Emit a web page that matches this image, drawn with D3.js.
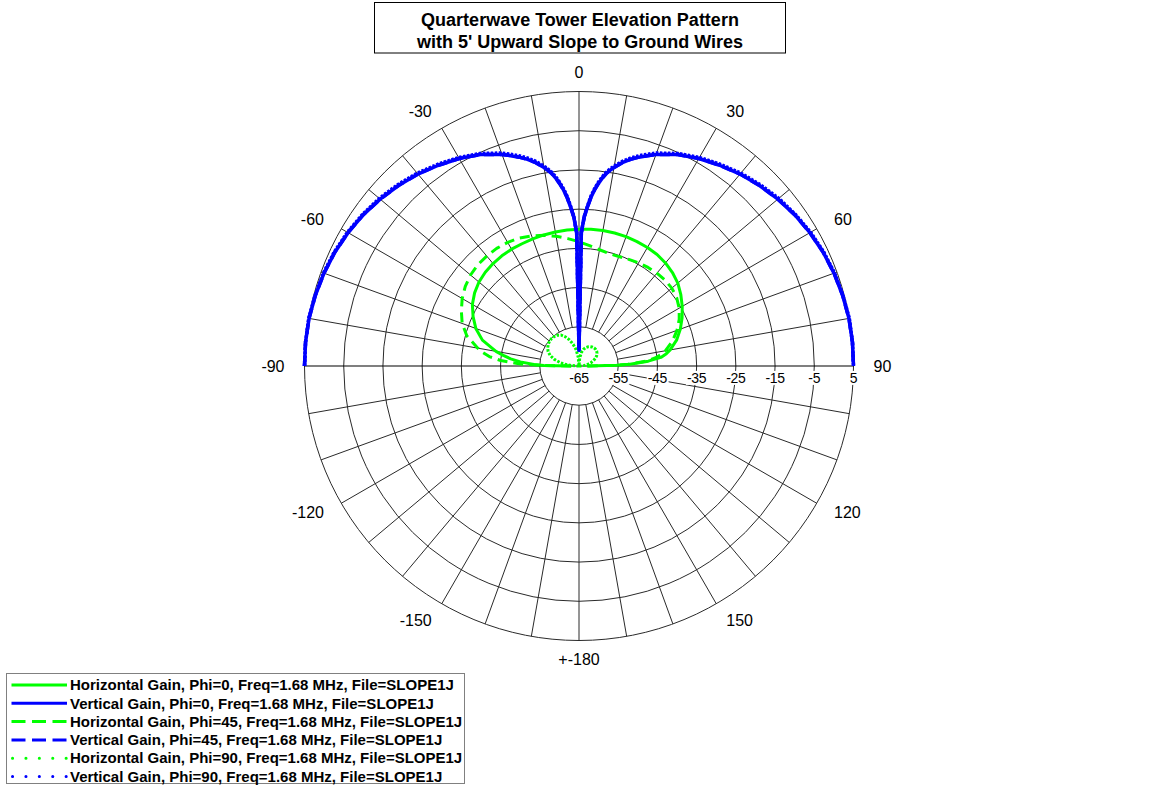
<!DOCTYPE html>
<html><head><meta charset="utf-8">
<script src="https://cdn.jsdelivr.net/npm/d3@7"></script>
<style>
body{margin:0;background:#fff;}
svg{display:block;font-family:"Liberation Sans",Arial,sans-serif;}
</style>
</head><body>
<svg id="chart" width="1151" height="786"></svg>
<script>
// ---------------- data ----------------
const titleLines = ["Quarterwave Tower Elevation Pattern", "with 5' Upward Slope to Ground Wires"];
const ringValues = [-65, -55, -45, -35, -25, -15, -5, 5];
const ringLabels = ["-65", "-55", "-45", "-35", "-25", "-15", "-5", "5"];
const angleTicks = [0, 30, 60, 90, 120, 150, 180, -150, -120, -90, -60, -30];
const angleLabels = ["0", "30", "60", "90", "120", "150", "+-180", "-150", "-120", "-90", "-60", "-30"];

// angles (deg from zenith) for the vertical-gain traces
const blueAngles = [-90,-85,-80,-75,-70,-65,-60,-55,-50,-45,-40,-35,-30,-25,-20,-18,-16,-14,-12,-10,-9,-8,-7,-6,-5,-4,-3,-2,-1,0,
                    1,2,3,4,5,6,7,8,9,10,12,14,16,18,20,25,30,35,40,45,50,55,60,65,70,75,80,85,90];
const vertPhi0  = [5.15,5.1,4.9,4.6,4.2,3.7,3.0,2.2,1.2,0.1,-1.1,-2.5,-3.9,-5.5,-7.6,-8.6,-9.6,-10.7,-12.0,-13.6,-14.5,-15.5,-16.8,-18.3,-20.0,-22.0,-24.5,-27.0,-31.0,-61.0,
                   -31.0,-27.0,-24.5,-22.0,-20.0,-18.3,-16.8,-15.5,-14.5,-13.6,-12.0,-10.7,-9.6,-8.6,-7.6,-5.5,-3.9,-2.5,-1.1,0.1,1.2,2.2,3.0,3.7,4.2,4.6,4.9,5.1,5.15];
const vertPhi45 = [5.15,5.1,4.9,4.6,4.2,3.7,3.0,2.2,1.2,0.1,-1.1,-2.5,-3.9,-5.5,-7.6,-8.6,-9.6,-10.7,-12.0,-13.6,-14.5,-15.5,-16.8,-18.3,-20.0,-22.0,-24.5,-27.0,-31.0,-61.0,
                   -31.0,-27.0,-24.5,-22.0,-20.0,-18.3,-16.8,-15.5,-14.5,-13.6,-12.0,-10.7,-9.6,-8.6,-7.6,-5.5,-3.9,-2.5,-1.1,0.1,1.2,2.2,3.0,3.7,4.2,4.6,4.9,5.1,5.15];
const vertPhi90 = [5.2,5.15,5.0,4.7,4.35,3.85,3.2,2.4,1.5,0.4,-0.8,-2.2,-3.6,-5.2,-7.2,-8.2,-9.2,-10.3,-11.6,-13.2,-14.1,-15.1,-16.4,-17.9,-19.6,-21.6,-24.2,-26.8,-30.8,-61.0,
                   -30.8,-26.8,-24.2,-21.6,-19.6,-17.9,-16.4,-15.1,-14.1,-13.2,-11.6,-10.3,-9.2,-8.2,-7.2,-5.2,-3.6,-2.2,-0.8,0.4,1.5,2.4,3.2,3.85,4.35,4.7,5.0,5.15,5.2];

// angles for the horizontal-gain traces
const greenAngles = [-90,-89,-88,-86,-84,-82,-80,-75,-70,-65,-60,-55,-50,-45,-40,-35,-30,-25,-20,-15,-10,-5,0,
                     5,10,15,20,25,30,35,40,45,50,55,60,65,70,75,80,82,84,86,88,89,90];
const horzPhi0  = [-63,-56,-53.5,-50,-47.5,-45.5,-43.5,-39.5,-37,-35.2,-33.6,-32.5,-31.7,-31.2,-30.9,-30.7,-30.6,-30.6,-30.5,-30.4,-30.3,-30.2,-30.1,
                   -30.0,-29.9,-29.9,-29.9,-30.0,-30.1,-30.3,-30.7,-31.3,-32.1,-33.3,-34.6,-36.0,-37.5,-39.2,-41.4,-42.5,-44.0,-47.3,-52.0,-55.4,-63];
const horzPhi45 = [-63,-55,-50,-45,-42,-40.2,-38.8,-35.4,-33.3,-31.9,-30.6,-29.6,-28.9,-28.5,-28.4,-28.4,-28.6,-29.0,-29.7,-30.5,-31.4,-32.4,-33.3,
                   -34.2,-34.9,-35.3,-35.3,-35.0,-34.6,-34.3,-34.1,-34.0,-34.1,-34.6,-35.5,-36.8,-38.4,-40.3,-42.6,-43.8,-45.5,-48.0,-52.5,-56.0,-63];
const horzPhi90 = [-65,-64.5,-64,-63,-62,-61,-60.2,-58.5,-57.2,-56.3,-55.8,-55.4,-55.2,-55.1,-55.2,-55.4,-55.9,-56.8,-57.9,-59.3,-60.8,-62.8,-65,
                   -63,-61.5,-60.6,-60.0,-59.6,-59.3,-59.1,-59.0,-59.0,-59.1,-59.4,-59.8,-60.4,-61.1,-61.9,-62.8,-63.2,-63.7,-64.2,-64.6,-64.8,-65];

const seriesNames = [
  "Horizontal Gain, Phi=0, Freq=1.68 MHz, File=SLOPE1J",
  "Vertical Gain, Phi=0, Freq=1.68 MHz, File=SLOPE1J",
  "Horizontal Gain, Phi=45, Freq=1.68 MHz, File=SLOPE1J",
  "Vertical Gain, Phi=45, Freq=1.68 MHz, File=SLOPE1J",
  "Horizontal Gain, Phi=90, Freq=1.68 MHz, File=SLOPE1J",
  "Vertical Gain, Phi=90, Freq=1.68 MHz, File=SLOPE1J"
];

// ---------------- layout ----------------
const W = 1151, H = 786;
const cx = 579, cy = 366, R = 274.5;
const GREEN = "#00ff00", BLUE = "#0000ff";

const series = [
  {name: seriesNames[0], color: GREEN, style: "solid",  angles: greenAngles, values: horzPhi0},
  {name: seriesNames[1], color: BLUE,  style: "solid",  angles: blueAngles,  values: vertPhi0},
  {name: seriesNames[2], color: GREEN, style: "dashed", angles: greenAngles, values: horzPhi45},
  {name: seriesNames[3], color: BLUE,  style: "dashed", angles: blueAngles,  values: vertPhi45},
  {name: seriesNames[4], color: GREEN, style: "dotted", angles: greenAngles, values: horzPhi90},
  {name: seriesNames[5], color: BLUE,  style: "dotted", angles: blueAngles,  values: vertPhi90}
];

const svg = d3.select("#chart");
svg.append("rect").attr("width", W).attr("height", H).attr("fill", "#fff");

const r = d3.scaleLinear().domain([ringValues[0], ringValues[ringValues.length - 1]]).range([0, R]).clamp(true);
const rad = d => d * Math.PI / 180;

const g = svg.append("g").attr("transform", `translate(${cx},${cy})`);

// rings
const gridColor = "#2a2a2a";
g.selectAll("circle.ring").data(ringValues.slice(1)).join("circle")
  .attr("class", "ring").attr("r", d => r(d))
  .attr("fill", "none").attr("stroke", gridColor).attr("stroke-width", 1);

// spokes every 10 degrees from the first ring outwards
const spokeAngles = d3.range(-170, 181, 10).filter(a => a !== 90 && a !== -90);
const r1 = r(ringValues[1]);
g.selectAll("line.spoke").data(spokeAngles).join("line")
  .attr("class", "spoke")
  .attr("x1", a => r1 * Math.sin(rad(a))).attr("y1", a => -r1 * Math.cos(rad(a)))
  .attr("x2", a => R * Math.sin(rad(a))).attr("y2", a => -R * Math.cos(rad(a)))
  .attr("stroke", gridColor).attr("stroke-width", 1);
// horizon diameter
g.append("line").attr("x1", -R).attr("x2", R).attr("y1", 0).attr("y2", 0)
  .attr("stroke", "#000").attr("stroke-width", 1.2);

// ring labels with white background
const rl = g.selectAll("g.rl").data(ringValues).join("g").attr("class", "rl")
  .attr("transform", d => `translate(${r(d)},12)`);
rl.append("rect").attr("fill", "#fff");
rl.append("text").text((d, i) => ringLabels[i])
  .attr("text-anchor", "middle").attr("dy", "0.35em")
  .attr("font-size", 14).attr("fill", "#000").attr("letter-spacing", -0.3);
rl.each(function() {
  const t = d3.select(this).select("text").node().getBBox();
  d3.select(this).select("rect").attr("x", t.x - 1).attr("y", t.y + 1).attr("width", t.width + 2).attr("height", t.height - 2);
});

// angle labels
angleTicks.forEach((a, i) => {
  const s = Math.sin(rad(a)), c = Math.cos(rad(a));
  const t = g.append("text").text(angleLabels[i])
    .attr("font-size", 16).attr("fill", "#000").attr("dy", "0.35em");
  if (Math.abs(s) < 1e-6) {
    t.attr("text-anchor", "middle").attr("x", 0).attr("y", -(R + 19) * c);
  } else {
    t.attr("text-anchor", s > 0 ? "start" : "end")
     .attr("x", (R + 20) * s).attr("y", -(R + 19) * c);
  }
});

// curves
const dashFor = {solid: null, dashed: "10,6", dotted: "2.5,1.5"};
const line = d3.lineRadial().angle(d => rad(d[0])).radius(d => r(d[1]));
const drawOrder = [0, 2, 4, 1, 3, 5];
drawOrder.forEach(i => {
  const s = series[i];
  const pts = s.angles.map((a, k) => [a, s.values[k]]);
  g.append("path").datum(pts).attr("d", line)
    .attr("fill", "none").attr("stroke", s.color)
    .attr("stroke-width", s.color === BLUE ? 3.5 : 3)
    .attr("stroke-linejoin", "round")
    .attr("stroke-dasharray", dashFor[s.style]);
});

// title
svg.append("rect").attr("x", 374.5).attr("y", 2.5).attr("width", 411).attr("height", 50.5)
  .attr("fill", "#fff").attr("stroke", "#000").attr("stroke-width", 1);
svg.selectAll("text.title").data(titleLines).join("text").attr("class", "title")
  .attr("x", 580).attr("y", (d, i) => 25.5 + i * 22)
  .attr("text-anchor", "middle").attr("font-size", 18).attr("font-weight", "bold")
  .text(d => d);

// legend
const lg = svg.append("g");
lg.append("rect").attr("x", 6.5).attr("y", 673.5).attr("width", 458).attr("height", 110)
  .attr("fill", "#fff").attr("stroke", "#808080").attr("stroke-width", 1);
const legendDash = {solid: null, dashed: "14,6.5", dotted: "0.1,13.3"};
series.forEach((s, i) => {
  const y = 685 + i * 18.3;
  lg.append("line").attr("x1", s.style === "dotted" ? 12.5 : 11.5).attr("x2", 67).attr("y1", y).attr("y2", y)
    .attr("stroke", s.color).attr("stroke-width", 3)
    .attr("stroke-linecap", s.style === "dotted" ? "round" : "butt")
    .attr("stroke-dasharray", legendDash[s.style]);
  lg.append("text").attr("x", 70).attr("y", y).attr("dy", "0.35em")
    .attr("font-size", 15).attr("font-weight", "bold").text(s.name);
});
</script>
</body></html>
